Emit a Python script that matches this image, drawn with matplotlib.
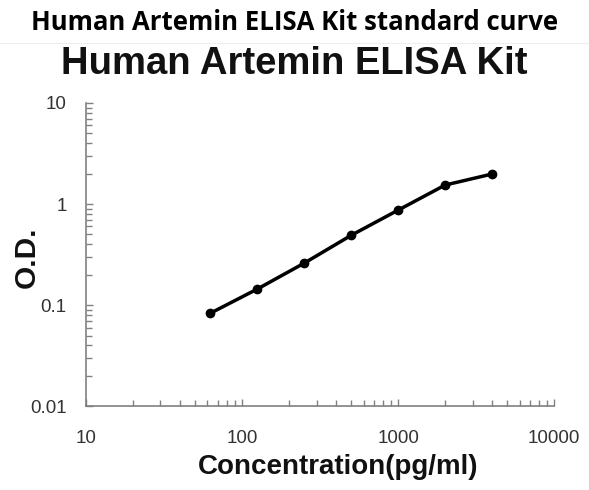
import matplotlib
matplotlib.use("Agg")
import matplotlib.pyplot as plt
from matplotlib.ticker import LogLocator, FixedLocator, FixedFormatter, NullFormatter

concentration = [62.5, 125, 250, 500, 1000, 2000, 4000]
od = [0.083, 0.144, 0.26, 0.49, 0.87, 1.54, 1.98]
x_ticks = [10, 100, 1000, 10000]
x_labels = ["10", "100", "1000", "10000"]
y_ticks = [0.01, 0.1, 1, 10]
y_labels = ["0.01", "0.1", "1", "10"]

fig = plt.figure(figsize=(5.89, 4.90), dpi=100)
fig.text(0.5, 0.955, "Human Artemin ELISA Kit standard curve", ha="center", va="center",
         fontsize=18.5, fontweight="bold", family=["Open Sans", "DejaVu Sans"])
fig.add_artist(plt.Line2D([0.0, 1.0], [0.913, 0.913], color="#eeeeee", lw=0.8))
fig.text(0.500, 0.849, "Human Artemin ELISA Kit", ha="center", va="baseline",
         fontsize=27.5, fontweight="bold", family=["Liberation Sans", "DejaVu Sans"], color="#111111")

ax = fig.add_axes([0.146, 0.171, 0.795, 0.619])
ax.set_xscale("log")
ax.set_yscale("log")
ax.set_xlim(10, 10000)
ax.set_ylim(0.01, 10)

ax.plot(concentration, od, color="black", lw=2.5, marker="o", markersize=6, solid_capstyle="round")

for s in ["top", "right"]:
    ax.spines[s].set_visible(False)
for s in ["left", "bottom"]:
    ax.spines[s].set_color("#808080")
    ax.spines[s].set_linewidth(1.2)

ax.xaxis.set_major_locator(FixedLocator(x_ticks))
ax.xaxis.set_major_formatter(FixedFormatter(x_labels))
ax.yaxis.set_major_locator(FixedLocator(y_ticks))
ax.yaxis.set_major_formatter(FixedFormatter(y_labels))
ax.xaxis.set_minor_locator(LogLocator(base=10, subs=range(2, 10)))
ax.yaxis.set_minor_locator(LogLocator(base=10, subs=range(2, 10)))
ax.xaxis.set_minor_formatter(NullFormatter())
ax.yaxis.set_minor_formatter(NullFormatter())

ax.tick_params(axis="both", which="both", direction="in", color="#808080", width=1)
ax.tick_params(axis="both", which="major", length=5)
ax.tick_params(axis="both", which="minor", length=4)
ax.tick_params(axis="x", which="major", pad=17, labelsize=13.5, labelcolor="#333333")
ax.tick_params(axis="y", which="major", pad=14, labelsize=13.5, labelcolor="#333333")
for lab in ax.get_xticklabels() + ax.get_yticklabels():
    lab.set_family(["Liberation Sans", "DejaVu Sans"])

ax.set_xlabel("Concentration(pg/ml)", fontsize=20, fontweight="bold",
              family=["Liberation Sans", "DejaVu Sans"], color="#111111", va="center")
ax.set_ylabel("O.D.", fontsize=21.5, fontweight="bold",
              family=["Liberation Sans", "DejaVu Sans"], color="#111111", va="center")
ax.xaxis.set_label_coords(0.538, -0.201)
ax.yaxis.set_label_coords(-0.126, 0.49)

fig.savefig("out.png", dpi=100)
